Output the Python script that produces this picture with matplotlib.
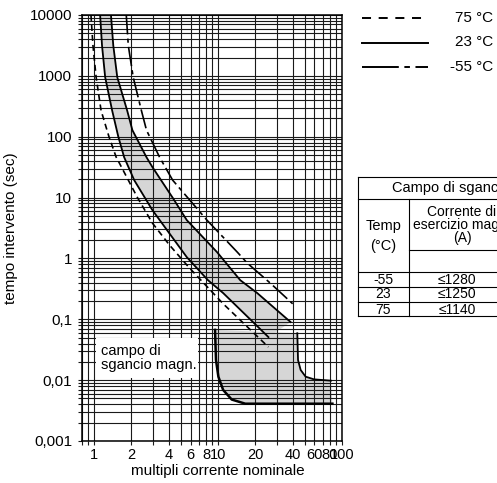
import matplotlib
matplotlib.use('Agg')
import matplotlib.pyplot as plt
from matplotlib.lines import Line2D
from matplotlib.patches import Rectangle

plt.rcParams['font.family'] = ['Liberation Sans', 'DejaVu Sans']
plt.rcParams['lines.scale_dashes'] = False

W, H = 497, 483

# curves (multiple of nominal current, trip time in s)
hot_x = [0.945, 0.98, 1.04, 1.14, 1.32, 1.51, 1.60, 2.24, 2.96, 4.07, 5.8, 11.0, 25.5]
hot_y = [10000, 3200, 950, 270, 100, 46, 37, 10, 3.8, 1.65, 0.72, 0.18, 0.035]

room_lo_x = [1.12, 1.16, 1.23, 1.40, 1.57, 1.75, 2.11, 2.96, 5.60, 8.29, 11.0, 25.5]
room_lo_y = [10000, 3160, 950, 270, 100, 46, 19.3, 6.2, 1.05, 0.44, 0.27, 0.051]

room_hi_x = [1.37, 1.43, 1.54, 1.85, 2.04, 2.65, 2.96, 4.3, 5.60, 9.82, 15.1, 20.7, 38.5]
room_hi_y = [10000, 3160, 950, 270, 128, 46, 31.6, 10, 4.26, 1.27, 0.44, 0.27, 0.09]

cold_x = [1.82, 1.89, 2.07, 2.41, 2.65, 3.38, 4.31, 8.14, 14.3, 17.2, 26.5, 40.0]
cold_y = [10000, 3160, 950, 270, 128, 46, 19.3, 4.26, 1.27, 0.84, 0.39, 0.18]

# magnetic trip region
mag_lo_x = [9.46, 9.63, 10.07, 11.0, 12.9, 16.6, 83.7]
mag_lo_y = [0.067, 0.0214, 0.0114, 0.0069, 0.0048, 0.0041, 0.0041]
mag_hi_x = [43.6, 44.2, 46.4, 50.9, 59.5, 81.4]
mag_hi_y = [0.059, 0.0214, 0.0147, 0.0114, 0.0103, 0.0098]

x_labels = {1: '1', 2: '2', 4: '4', 6: '6', 8: '8', 10: '10', 20: '20',
            40: '40', 60: '60', 80: '80', 100: '100'}
y_labels = {0.001: '0,001', 0.01: '0,01', 0.1: '0,1', 1: '1', 10: '10',
            100: '100', 1000: '1000', 10000: '10000'}

legend_labels = ['75 °C', '23 °C', '-55 °C']
table_temps = ['-55', '23', '75']
table_currents = ['≤1280', '≤1250', '≤1140']


def fx(x):
    return x / W


def fy(y):
    return 1 - y / H


fig = plt.figure(figsize=(W / 100, H / 100), dpi=100)
ax = fig.add_axes([fx(82), fy(441), 260 / W, 426 / H])
ax.set_xscale('log')
ax.set_yscale('log')
ax.set_xlim(0.8, 100)
ax.set_ylim(0.001, 10000)

# grid lines at every log step
xt = [0.8, 0.9] + [m * 10 ** e for e in (0, 1) for m in range(1, 10)] + [100]
yt = [m * 10.0 ** e for e in range(-3, 4) for m in range(1, 10)] + [10000]
ax.set_xticks(xt)
ax.set_xticklabels([x_labels.get(round(v, 3), '') for v in xt])
ax.set_yticks(yt)
ax.set_yticklabels([y_labels.get(round(v, 4), '') for v in yt])
ax.minorticks_off()
ax.grid(True, color='#1a1a1a', lw=0.8)
ax.tick_params(length=3, width=0.8, color='#1a1a1a', labelsize=11)
ax.tick_params(axis='x', pad=2, labelsize=10.5)
ax.tick_params(axis='y', pad=4)
for s in ax.spines.values():
    s.set_linewidth(1.1)

gray = '#d6d6d6'
ax.fill(room_lo_x + room_hi_x[::-1], room_lo_y + room_hi_y[::-1], color=gray, lw=0)
ax.fill(mag_lo_x + [mag_hi_x[-1]] + mag_hi_x[::-1], mag_lo_y + [mag_hi_y[-1]] + mag_hi_y[::-1],
        color=gray, lw=0)

ax.plot(hot_x, hot_y, color='black', lw=1.2, dashes=(4.3, 2.9))
ax.plot(room_lo_x, room_lo_y, color='black', lw=1.3)
ax.plot(room_hi_x, room_hi_y, color='black', lw=1.3)
ax.plot(cold_x, cold_y, color='black', lw=1.2, dashes=(14, 3, 3, 3))
ax.plot(mag_lo_x, mag_lo_y, color='black', lw=1.8)
ax.plot(mag_hi_x, mag_hi_y, color='black', lw=1.3)

ax.set_xlabel('multipli corrente nominale', fontsize=11)
ax.set_ylabel('tempo intervento (sec)', fontsize=11)
ax.xaxis.set_label_coords(0.523, -0.055)
ax.yaxis.set_label_coords(-0.245, 0.5)

# label box inside the plot
ax.add_patch(Rectangle((0.054, 0.148), 0.392, 0.094, transform=ax.transAxes,
                       facecolor='white', edgecolor='none', zorder=5))
ax.text(0.073, 0.196, 'campo di\nsgancio magn.', transform=ax.transAxes,
        fontsize=10.5, va='center', ha='left', linespacing=1.0, zorder=6)

# legend outside, top right
styles = [dict(dashes=(6.5, 5.5)), dict(), dict(dashes=(26.5, 4, 4, 4))]
for i, (lab, st) in enumerate(zip(legend_labels, styles)):
    yy = 18 + 24.5 * i
    fig.add_artist(Line2D([fx(362), fx(428)], [fy(yy), fy(yy)], transform=fig.transFigure,
                          color='black', lw=1.4, **st))
    fig.text(fx(493), fy(yy), lab, fontsize=11, va='center', ha='right')


# table (cut at the right border)
def hline(y, x0, x1=520):
    fig.add_artist(Line2D([fx(x0), fx(x1)], [fy(y), fy(y)], transform=fig.transFigure,
                          color='black', lw=0.8))


def vline(x, y0, y1):
    fig.add_artist(Line2D([fx(x), fx(x)], [fy(y0), fy(y1)], transform=fig.transFigure,
                          color='black', lw=0.8))


for y in (177, 199, 272, 287, 302, 316):
    hline(y, 358)
hline(250, 409)
vline(358, 177, 316)
vline(409, 199, 316)

fig.text(fx(392), fy(188), 'Campo di sgancio magnetico', fontsize=10.5, va='center', ha='left')
fig.text(fx(383.5), fy(236), 'Temp\n(°C)', fontsize=10.5, va='center', ha='center',
         linespacing=1.5)
fig.text(fx(462), fy(225), 'Corrente di\nesercizio magn.\n(A)', fontsize=10, va='center',
         ha='center', linespacing=0.95)
for i, (t, c) in enumerate(zip(table_temps, table_currents)):
    yy = 279.5 + 15 * i
    fig.text(fx(383.5), fy(yy), t, fontsize=10, va='center', ha='center')
    fig.text(fx(457), fy(yy), c, fontsize=10, va='center', ha='center')

fig.savefig('out.png', dpi=100)
